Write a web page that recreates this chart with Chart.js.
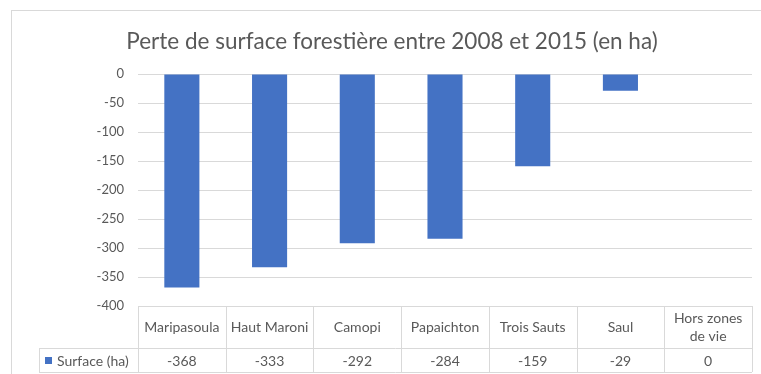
<!DOCTYPE html>
<html>
<head>
<meta charset="utf-8">
<script src="https://cdn.jsdelivr.net/npm/chart.js@4/dist/chart.umd.min.js"></script>
<style>
  html, body { margin: 0; padding: 0; background: #fff; }
  #wrap { width: 761px; height: 374px; position: relative; }
</style>
</head>
<body>
<div id="wrap"><canvas id="chart"></canvas></div>
<script>
// data
const titleText  = "Perte de surface forestière entre 2008 et 2015 (en ha)";
const categories = ["Maripasoula", "Haut Maroni", "Camopi", "Papaichton", "Trois Sauts", "Saul", ["Hors zones", "de vie"]];
const seriesName = "Surface (ha)";
const surface    = [-368, -333, -292, -284, -159, -29, 0];
const yTicks     = [0, -50, -100, -150, -200, -250, -300, -350, -400];

const barColor  = "#4472C4";
const textColor = "#595959";
const lineColor = "#d9d9d9";
const fontName  = "Lato";

// frame, title and the data table under the plot
const tablePlugin = {
  id: "tablePlugin",
  beforeDraw(chart) {
    const ctx = chart.ctx;
    ctx.save();
    ctx.strokeStyle = lineColor;
    ctx.lineWidth = 1;
    ctx.strokeRect(11.5, 10.5, 800, 400);
    ctx.restore();
  },
  afterDraw(chart) {
    const ctx  = chart.ctx;
    const area = chart.chartArea;
    const x    = chart.scales.x;
    const step = (area.right - area.left) / categories.length;
    const top  = area.bottom;
    const mid  = top + 42;
    const bot  = top + 66;
    const legendLeft = 39;

    ctx.save();
    // title
    ctx.fillStyle = textColor;
    ctx.font = `22.5px ${fontName}`;
    ctx.textAlign = "center";
    ctx.textBaseline = "middle";
    ctx.fillText(titleText, 392, 42);

    // grid of the table
    ctx.strokeStyle = lineColor;
    ctx.lineWidth = 1;
    ctx.beginPath();
    ctx.moveTo(area.left, top + 0.5);       ctx.lineTo(area.right, top + 0.5);
    ctx.moveTo(legendLeft, mid + 0.5);      ctx.lineTo(area.right, mid + 0.5);
    ctx.moveTo(legendLeft, bot + 0.5);      ctx.lineTo(area.right, bot + 0.5);
    ctx.moveTo(legendLeft + 0.5, mid);      ctx.lineTo(legendLeft + 0.5, bot);
    for (let i = 0; i <= categories.length; i++) {
      const px = Math.round(area.left + i * step) + 0.5;
      ctx.moveTo(px, top); ctx.lineTo(px, bot);
    }
    ctx.stroke();

    // category names and values
    ctx.font = `14px ${fontName}`;
    categories.forEach((c, i) => {
      const cx = x.getPixelForValue(i);
      const lines = Array.isArray(c) ? c : [c];
      const cy = (top + mid) / 2;
      lines.forEach((l, j) => {
        ctx.fillText(l, cx, cy + (j - (lines.length - 1) / 2) * 18);
      });
      ctx.fillText(String(surface[i]), cx, (mid + bot) / 2 + 1);
    });

    // legend key
    ctx.fillStyle = barColor;
    ctx.fillRect(45, (mid + bot) / 2 - 3, 7, 7);
    ctx.fillStyle = textColor;
    ctx.textAlign = "left";
    ctx.fillText(seriesName, 57, (mid + bot) / 2 + 1);
    ctx.restore();
  }
};

new Chart(document.getElementById("chart"), {
  type: "bar",
  data: {
    labels: categories,
    datasets: [{
      label: seriesName,
      data: surface,
      backgroundColor: barColor,
      categoryPercentage: 1,
      barPercentage: 0.4
    }]
  },
  options: {
    responsive: true,
    maintainAspectRatio: false,
    animation: false,
    layout: { padding: { top: 74, left: 0, right: 9, bottom: 68 } },
    plugins: {
      legend: { display: false },
      title: { display: false },
      tooltip: { enabled: false }
    },
    scales: {
      x: { display: false },
      y: {
        min: Math.min(...yTicks),
        max: Math.max(...yTicks),
        afterFit: s => { s.width = 138; },
        afterBuildTicks: s => { s.ticks = yTicks.map(v => ({ value: v })); },
        border: { display: false },
        grid: { color: lineColor, drawTicks: false },
        ticks: {
          padding: 14,
          color: textColor,
          font: { family: fontName, size: 13 }
        }
      }
    }
  },
  plugins: [tablePlugin]
});
</script>
</body>
</html>
